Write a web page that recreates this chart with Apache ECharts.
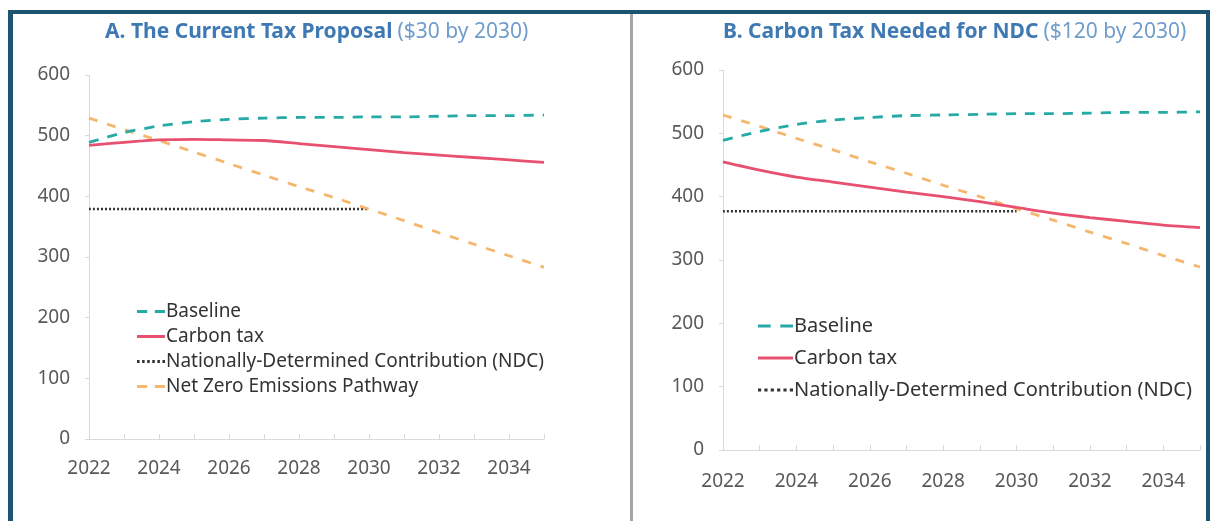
<!DOCTYPE html>
<html>
<head>
<meta charset="utf-8">
<script src="https://cdn.jsdelivr.net/npm/echarts@6/dist/echarts.min.js"></script>
<style>
html,body{margin:0;padding:0;background:#fff;}
#chart{width:1214px;height:521px;}
</style>
</head>
<body>
<div id="chart"></div>
<script>
// ---- data ----
const years = ['2022','2023','2024','2025','2026','2027','2028','2029','2030','2031','2032','2033','2034','2035'];
const yTicks = [0, 100, 200, 300, 400, 500, 600];

// Panel A: The Current Tax Proposal ($30 by 2030)
const baselineA = [489, 505, 516, 523, 527, 529, 530, 530, 531, 531, 532, 533, 533, 534];
const carbonTaxA = [484, 489, 493, 494, 493, 492, 487, 482, 477, 472, 468, 464, 460, 456];
const ndcA = [379, 379, 379, 379, 379, 379, 379, 379, 379, null, null, null, null, null];
const netZeroA = [529, 510, 492, 473, 454, 435, 416, 398, 379, 360, 340, 321, 302, 283];

// Panel B: Carbon Tax Needed for NDC ($120 by 2030)
const baselineB = [489, 503, 514, 521, 525, 528, 529, 530, 531, 531, 532, 533, 533, 534];
const carbonTaxB = [455, 442, 431, 423, 415, 407, 400, 392, 383, 374, 367, 361, 355, 351];
const ndcB = [377, 377, 377, 377, 377, 377, 377, 377, 377, null, null, null, null, null];
const netZeroB = [529, 511, 492, 474, 455, 437, 418, 400, 381, 363, 344, 326, 307, 289];

const names = {
  base: 'Baseline',
  tax: 'Carbon tax',
  ndc: 'Nationally-Determined Contribution (NDC)',
  nz: 'Net Zero Emissions Pathway'
};
const titleA = ['A. The Current Tax Proposal', '($30 by 2030)'];
const titleB = ['B. Carbon Tax Needed for NDC', '($120 by 2030)'];

// ---- styles ----
const FONT = '"Noto Sans", "Open Sans", sans-serif';
const C_BASE = '#26aaa6';
const C_TAX = '#e8506f';
const C_NDC = '#333333';
const C_NZ = '#f5b66e';
const LABEL = '#595959';
const AXIS = '#d9d9d9';

const ICON_DASH = 'path://M0,0h8v3h-8z M14,0h8v3h-8z';
const ICON_SOLID = 'path://M0,0h22v3h-22z';
const ICON_DOT = 'path://M0,0h2v3h-2z M4,0h2v3h-2z M8,0h2v3h-2z M12,0h2v3h-2z M16,0h2v3h-2z M20,0h2v3h-2z';

const chart = echarts.init(document.getElementById('chart'), null, {renderer: 'canvas'});

function xAxis(gridIndex, margin) {
  return {
    type: 'category', gridIndex, data: years, boundaryGap: false,
    axisLine: {lineStyle: {color: AXIS, width: 1}},
    axisTick: {show: true, inside: true, length: 5, interval: 0, lineStyle: {color: AXIS}},
    axisLabel: {
      color: LABEL, fontSize: 19, fontFamily: FONT, margin,
      interval: 0,
      formatter: (v, i) => (i % 2 === 0 && i < 13) ? v : ''
    },
    splitLine: {show: false}
  };
}
function yAxis(gridIndex) {
  return {
    type: 'value', gridIndex, min: yTicks[0], max: yTicks[yTicks.length - 1], interval: 100,
    axisLine: {show: true, lineStyle: {color: AXIS}},
    axisTick: {show: true, length: 4, lineStyle: {color: AXIS}},
    axisLabel: {color: LABEL, fontSize: 19, fontFamily: FONT, margin: 19},
    splitLine: {show: false}
  };
}
function line(name, data, color, type, gi, dash) {
  return {
    name, type: 'line', data, xAxisIndex: gi, yAxisIndex: gi,
    symbol: 'none', smooth: 0.25, connectNulls: false, animation: false,
    lineStyle: {color, width: type === 'dotted' ? 2.5 : 2.8, type: dash || type, cap: 'butt'},
    itemStyle: {color},
    z: type === 'solid' ? 3 : 2
  };
}
function titleRich() {
  return {
    b: {fontFamily: FONT, fontSize: 21, fontWeight: 'bold', color: '#3f79b3'},
    n: {fontFamily: FONT, fontSize: 21, fontWeight: 'normal', color: '#6f9dcc'}
  };
}

const dashBase = [10, 9];
const dashNZ = [9, 10];
const dotNDC = [2, 2];

chart.setOption({
  animation: false,
  backgroundColor: '#ffffff',
  title: [
    {
      text: '{b|' + titleA[0] + '} {n|' + titleA[1] + '}',
      left: 100, top: 17,
      textStyle: {rich: titleRich()}
    },
    {
      text: '{b|' + titleB[0] + '} {n|' + titleB[1] + '}',
      left: 718, top: 17,
      textStyle: {rich: titleRich()}
    }
  ],
  grid: [
    {left: 89, top: 75, width: 455, height: 364},
    {left: 723, top: 70, width: 477, height: 380}
  ],
  xAxis: [xAxis(0, 20), xAxis(1, 22)],
  yAxis: [yAxis(0), yAxis(1)],
  legend: [
    {
      orient: 'vertical', left: 132, top: 297,
      itemWidth: 28, itemHeight: 3, itemGap: 6, symbolKeepAspect: false,
      textStyle: {color: '#333', fontSize: 19, fontFamily: FONT, padding: [0, 0, 0, -4]},
      data: [
        {name: names.base, icon: ICON_DASH},
        {name: names.tax, icon: ICON_SOLID},
        {name: names.ndc, icon: ICON_DOT},
        {name: names.nz, icon: ICON_DASH}
      ],
      selectedMode: false
    },
    {
      orient: 'vertical', left: 753, top: 311,
      itemWidth: 35, itemHeight: 3, itemGap: 12, symbolKeepAspect: false,
      textStyle: {color: '#333', fontSize: 20, fontFamily: FONT, padding: [0, 0, 0, -4]},
      data: [
        {name: names.base, icon: ICON_DASH},
        {name: names.tax, icon: ICON_SOLID},
        {name: names.ndc, icon: ICON_DOT}
      ],
      selectedMode: false
    }
  ],
  series: [
    line(names.ndc, ndcA, C_NDC, 'dotted', 0, dotNDC),
    line(names.nz, netZeroA, C_NZ, 'dashed', 0, dashNZ),
    line(names.base, baselineA, C_BASE, 'dashed', 0, dashBase),
    line(names.tax, carbonTaxA, C_TAX, 'solid', 0),
    line(names.ndc, ndcB, C_NDC, 'dotted', 1, dotNDC),
    line(names.nz, netZeroB, C_NZ, 'dashed', 1, dashNZ),
    line(names.base, baselineB, C_BASE, 'dashed', 1, dashBase),
    line(names.tax, carbonTaxB, C_TAX, 'solid', 1)
  ],
  graphic: [
    {type: 'rect', shape: {x: 8, y: 10, width: 1202, height: 4}, style: {fill: '#1d5571'}, silent: true},
    {type: 'rect', shape: {x: 8, y: 10, width: 5, height: 511}, style: {fill: '#1d5571'}, silent: true},
    {type: 'rect', shape: {x: 1206, y: 10, width: 4, height: 511}, style: {fill: '#1d5571'}, silent: true},
    {type: 'rect', shape: {x: 630, y: 14, width: 3, height: 507}, style: {fill: '#a6a6a6'}, silent: true}
  ]
});
</script>
</body>
</html>
